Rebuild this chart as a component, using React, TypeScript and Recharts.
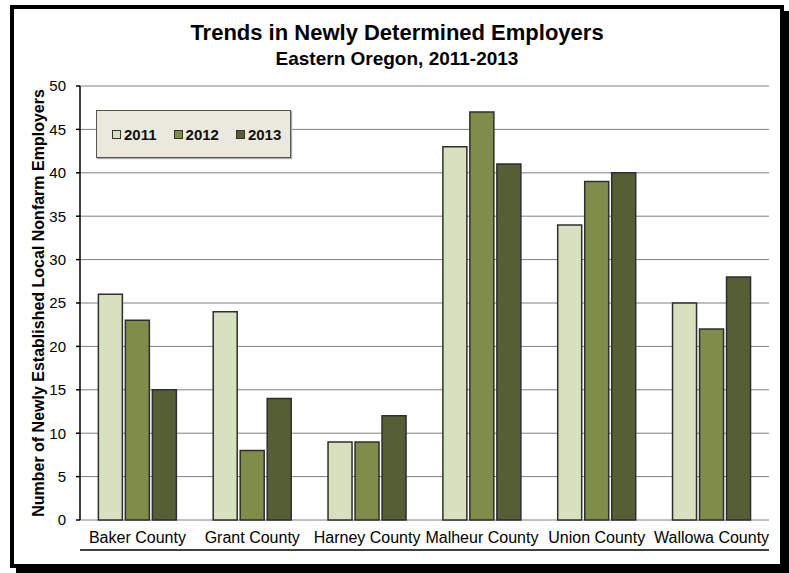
import { BarChart, Bar, XAxis, YAxis, CartesianGrid, Legend, ReferenceLine } from 'recharts';

const counties = ['Baker County', 'Grant County', 'Harney County', 'Malheur County', 'Union County', 'Wallowa County'];
const values2011 = [26, 24, 9, 43, 34, 25];
const values2012 = [23, 8, 9, 47, 39, 22];
const values2013 = [15, 14, 12, 41, 40, 28];
const yTicks = [0, 5, 10, 15, 20, 25, 30, 35, 40, 45, 50];
const boundaryTicks = [0, 1, 2, 3, 4, 5, 6];

const series = [
  { key: 'y2011', name: '2011', color: '#d7e1bf' },
  { key: 'y2012', name: '2012', color: '#7f8c4a' },
  { key: 'y2013', name: '2013', color: '#565e36' },
];

const data = counties.map((county, i) => ({
  county,
  y2011: values2011[i],
  y2012: values2012[i],
  y2013: values2013[i],
}));

const FONT = '"Liberation Sans", Arial, sans-serif';

const LegendBox = (props: any) => {
  const items = props.payload || [];
  return (
    <div
      style={{
        width: 195,
        height: 48,
        boxSizing: 'border-box',
        background: '#ebe9dd',
        border: '1px solid #555',
        boxShadow: '1px 1px 1px #aaa',
        display: 'flex',
        alignItems: 'center',
        paddingLeft: 15,
        fontFamily: FONT,
        fontWeight: 'bold',
        fontSize: 15,
        color: '#111',
      }}
    >
      {items.map((it: any) => (
        <div key={it.value} style={{ display: 'flex', alignItems: 'center', marginRight: 17 }}>
          <span
            style={{
              display: 'inline-block',
              width: 7,
              height: 7,
              background: it.color,
              border: '1px solid #333',
              marginRight: 3,
            }}
          />
          <span>{it.value}</span>
        </div>
      ))}
    </div>
  );
};

export default function App() {
  return (
    <div style={{ position: 'absolute', left: 0, top: 0, width: 789, height: 573, background: '#fff' }}>
      <div
        style={{
          position: 'absolute',
          left: 10,
          top: 5,
          width: 774,
          height: 563,
          boxSizing: 'border-box',
          border: '4px solid #000',
          boxShadow: '6px 6px 0 #000',
        }}
      />
      <div
        style={{
          position: 'absolute',
          left: 10,
          width: 774,
          top: 20,
          textAlign: 'center',
          fontFamily: FONT,
          fontWeight: 'bold',
          fontSize: 22,
          lineHeight: '25px',
          color: '#000',
        }}
      >
        Trends in Newly Determined Employers
      </div>
      <div
        style={{
          position: 'absolute',
          left: 10,
          width: 774,
          top: 48,
          textAlign: 'center',
          fontFamily: FONT,
          fontWeight: 'bold',
          fontSize: 19,
          lineHeight: '21px',
          color: '#000',
        }}
      >
        Eastern Oregon, 2011-2013
      </div>
      <div style={{ position: 'absolute', left: 0, top: 0 }}>
        <BarChart
          width={789}
          height={573}
          data={data}
          margin={{ top: 86, right: 20, bottom: 22, left: 0 }}
          barCategoryGap="16%"
          barGap={3}
        >
          <CartesianGrid vertical={false} stroke="#808080" strokeWidth={1} />
          <XAxis
            xAxisId="b"
            type="number"
            domain={[0, 6]}
            ticks={boundaryTicks}
            tick={false}
            height={1}
            tickSize={6}
            axisLine={{ stroke: '#000', strokeWidth: 1.5 }}
            tickLine={{ stroke: '#000', strokeWidth: 1.5 }}
          />
          <XAxis
            dataKey="county"
            height={30}
            axisLine={false}
            tickLine={false}
            tickSize={6}
            tickMargin={6}
            interval={0}
            tick={{ fontFamily: FONT, fontSize: 16, fill: '#000' }}
          />
          <YAxis
            width={80}
            domain={[0, 50]}
            ticks={yTicks}
            interval={0}
            tickSize={4}
            tickMargin={10}
            axisLine={{ stroke: '#000', strokeWidth: 1.5 }}
            tickLine={{ stroke: '#000', strokeWidth: 1.5 }}
            tick={{ fontFamily: FONT, fontSize: 15, fill: '#000' }}
            label={{
              value: 'Number of Newly Established Local Nonfarm Employers',
              angle: -90,
              position: 'center',
              dx: -2,
              style: { fontFamily: FONT, fontWeight: 'bold', fontSize: 16, fill: '#000', textAnchor: 'middle' },
            }}
          />
          <ReferenceLine xAxisId="b" x={6} stroke="#666" strokeWidth={1.5} />
          <Legend
            layout="horizontal"
            verticalAlign="middle"
            align="center"
            content={<LegendBox />}
            wrapperStyle={{ left: 96, top: 110, width: 195, height: 48 }}
          />
          {series.map((s) => (
            <Bar
              key={s.key}
              dataKey={s.key}
              name={s.name}
              fill={s.color}
              stroke="#2e2e2e"
              strokeWidth={1.5}
              isAnimationActive={false}
            />
          ))}
        </BarChart>
      </div>
    </div>
  );
}
